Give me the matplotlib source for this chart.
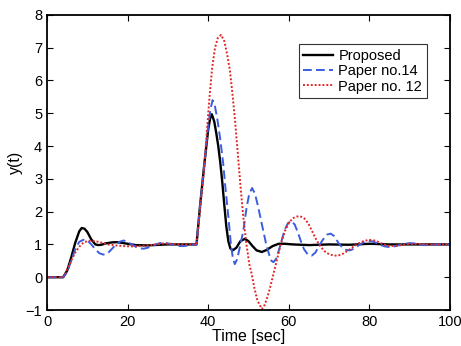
import matplotlib
matplotlib.use("Agg")
import matplotlib.pyplot as plt

plt.rcParams['font.family'] = ['Liberation Sans', 'DejaVu Sans']

# Proposed
t_prop = [0, 4, 5, 6, 7, 8, 8.6, 9.3, 10, 11, 12, 12.7, 13.5, 14.5, 16, 17.3, 18.5, 20, 22, 25, 28, 30, 34, 37.1,
          38, 39, 40, 40.5, 40.9, 41.5, 42, 42.5, 43, 43.5, 44, 44.5, 45, 45.5, 46.1, 47, 48, 49.1, 50, 51, 52,
          53.3, 54.5, 56, 57.5, 59, 61, 65, 70, 75, 80, 85, 90, 100]
y_prop = [0, 0, 0.2, 0.6, 1.05, 1.4, 1.5, 1.48, 1.38, 1.15, 1.0, 0.98, 0.99, 1.03, 1.06, 1.07, 1.05, 1.02, 0.98, 0.97, 0.99, 1.0, 1.0, 1.0,
          2.2, 3.4, 4.5, 4.85, 4.97, 4.75, 4.4, 4.0, 3.5, 2.9, 2.2, 1.55, 1.1, 0.88, 0.82, 0.9, 1.1, 1.17, 1.1, 0.95, 0.82,
          0.77, 0.83, 0.95, 1.02, 1.02, 1.0, 0.98, 1.0, 0.99, 1.02, 1.0, 1.0, 1.0]

# Paper no.14
t_p14 = [0, 4, 5, 6, 7, 8, 9, 10, 11, 12, 13, 14, 15, 16, 17, 18, 19, 20, 21, 22, 23, 24, 25, 26, 27, 28, 29, 30,
         31, 32, 33, 34, 35, 36, 37.1, 38, 39, 40, 40.6, 41.1, 41.7, 42.3, 43, 43.7, 44.3, 45, 45.6, 46.1, 46.6,
         47.2, 48, 48.7, 49.5, 50.2, 50.9, 51.6, 52.3, 53, 53.7, 54.4, 55.1, 55.7, 56.2, 56.8, 57.5, 58.3, 59,
         59.8, 60.7, 61.5, 62.3, 63, 63.8, 64.7, 65.7, 66.6, 67.5, 68.5, 69.5, 70.4, 71.3, 72.3, 73.3, 74.3, 75.2,
         76.2, 77.3, 78.5, 79.6, 80.5, 81.5, 82.6, 83.8, 85, 86.2, 87.5, 88.8, 90, 91.3, 92.5, 93.8, 95, 97, 100]
y_p14 = [0, 0, 0.15, 0.5, 0.85, 1.08, 1.14, 1.12, 1.0, 0.85, 0.73, 0.69, 0.72, 0.85, 0.98, 1.08, 1.12, 1.08, 1.0,
         0.93, 0.88, 0.87, 0.9, 0.95, 1.0, 1.04, 1.05, 1.03, 1.0, 0.97, 0.95, 0.95, 0.97, 0.99, 1.0, 2.2, 3.4, 4.6,
         5.15, 5.4, 5.2, 4.8, 4.2, 3.5, 2.7, 1.85, 1.05, 0.6, 0.4, 0.55, 1.0, 1.4, 2.1, 2.55, 2.72, 2.55, 2.2, 1.8,
         1.4, 1.0, 0.7, 0.5, 0.46, 0.55, 0.8, 1.15, 1.45, 1.65, 1.72, 1.6, 1.35, 1.1, 0.85, 0.7, 0.66, 0.75, 0.95,
         1.15, 1.3, 1.33, 1.25, 1.05, 0.9, 0.83, 0.82, 0.87, 0.97, 1.06, 1.1, 1.1, 1.06, 0.99, 0.94, 0.92, 0.94,
         0.98, 1.02, 1.04, 1.03, 1.0, 0.98, 0.98, 1.0, 1.0]

# Paper no. 12
t_p12 = [0, 4, 4.5, 5, 6, 7, 8, 9, 10, 11, 12, 13, 14, 15, 17, 19, 21, 23, 25, 27, 29, 31, 33, 37.1, 38, 39,
         39.7, 40.4, 41, 41.7, 42.4, 43.2, 44, 44.7, 45.4, 46.1, 46.65, 47.2, 48, 48.7, 49.5, 50.2, 50.8, 51.5,
         52.2, 53.3, 54, 54.7, 55.4, 56, 57, 58, 59, 60, 61, 62, 62.8, 63.8, 64.8, 65.8, 66.8, 67.8, 68.8, 70,
         71.2, 72.3, 73.5, 74.8, 76, 77.3, 78.5, 79.6, 80.6, 81.8, 83, 84.2, 85.5, 86.8, 88, 89.5, 91, 93, 95, 100]
y_p12 = [0, 0, 0.1, 0.25, 0.5, 0.75, 0.93, 1.05, 1.1, 1.12, 1.1, 1.07, 1.04, 1.0, 0.97, 0.95, 0.94, 0.95, 0.97,
         1.0, 1.03, 1.02, 1.0, 1.0, 2.1, 3.3, 4.5, 5.6, 6.4, 7.0, 7.3, 7.39, 7.2, 6.8, 6.3, 5.5, 4.8, 4.0, 2.8,
         1.85, 1.0, 0.4, 0.1, -0.35, -0.7, -0.97, -0.85, -0.6, -0.3, 0.0, 0.5, 1.0, 1.4, 1.65, 1.8, 1.85, 1.86,
         1.8, 1.65, 1.4, 1.15, 0.95, 0.8, 0.7, 0.66, 0.66, 0.72, 0.82, 0.93, 1.03, 1.1, 1.13, 1.14, 1.1, 1.03,
         0.97, 0.95, 0.96, 0.98, 1.01, 1.02, 1.01, 1.0, 1.0]

fig = plt.figure(figsize=(4.61, 3.46), dpi=100)
ax = fig.add_axes([0.102, 0.104, 0.874, 0.853])

ax.plot(t_prop, y_prop, color='black', lw=1.7, label='Proposed')
ax.plot(t_p14, y_p14, color='#3a5ee0', lw=1.4, ls=(0, (4.5, 2.2)), label='Paper no.14')
ax.plot(t_p12, y_p12, color='#e02828', lw=1.4, ls=(0, (1, 1)), label='Paper no. 12')

ax.set_xlim(0, 100)
ax.set_ylim(-1, 8)
ax.set_xticks([0, 20, 40, 60, 80, 100])
ax.set_yticks(range(-1, 9))
ax.tick_params(direction='in', top=True, right=True, labelsize=10.5, length=4)
for s in ax.spines.values():
    s.set_linewidth(1.3)
ax.set_xlabel('Time [sec]', fontsize=11.5, labelpad=0)
ax.set_ylabel('y(t)', fontsize=11.5, labelpad=2)

leg = ax.legend(loc='upper right', bbox_to_anchor=(0.96, 0.925), fontsize=10.5, handlelength=2.0,
                frameon=True, fancybox=False, borderpad=0.3, labelspacing=0.1, handletextpad=0.4)
leg.get_frame().set_edgecolor('black')
leg.get_frame().set_linewidth(0.8)

fig.savefig('out.png', dpi=100)
